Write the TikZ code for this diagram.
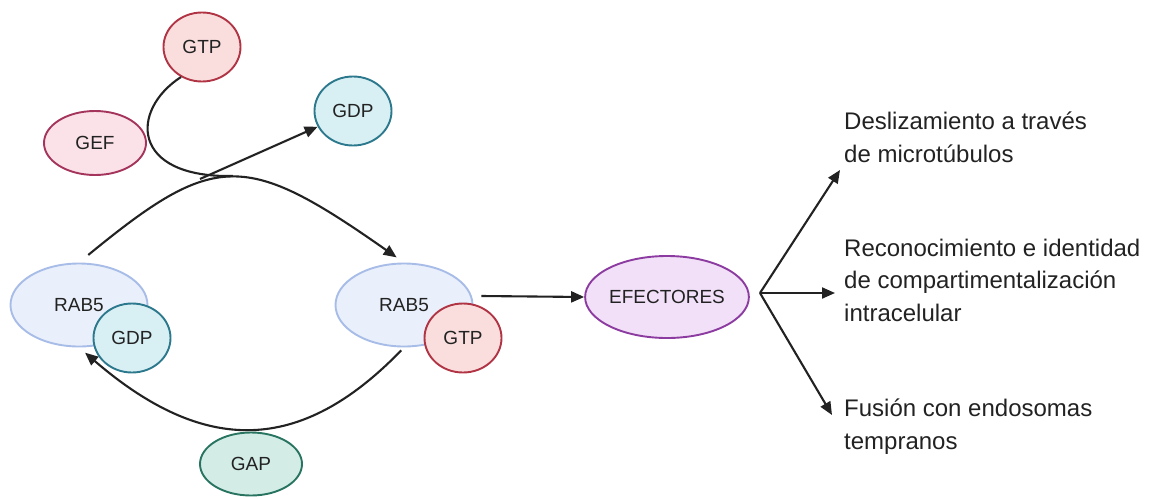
\documentclass[tikz,border=0pt]{standalone}
\usepackage{fontspec}
\setmainfont{Liberation Sans}
\usetikzlibrary{arrows.meta,shapes.geometric}
\definecolor{gtpf}{RGB}{250,222,222}
\definecolor{gtpd}{RGB}{176,52,68}
\definecolor{geff}{RGB}{250,226,232}
\definecolor{gefd}{RGB}{164,52,92}
\definecolor{gdpf}{RGB}{216,239,244}
\definecolor{gdpd}{RGB}{44,120,140}
\definecolor{rabf}{RGB}{233,240,251}
\definecolor{rabd}{RGB}{168,188,232}
\definecolor{gapf}{RGB}{211,237,230}
\definecolor{gapd}{RGB}{40,116,96}
\definecolor{efef}{RGB}{242,224,248}
\definecolor{efed}{RGB}{140,60,160}
\definecolor{ink}{RGB}{34,34,34}
\begin{document}
\begin{tikzpicture}[x=1pt,y=1pt,
  blob/.style={ellipse, draw, line width=1.9pt, inner sep=0pt, text=ink,
    font=\fontsize{19}{19}\selectfont},
  gtpstyle/.style={blob, fill=gtpf, draw=gtpd, minimum width=77pt, minimum height=69pt},
  gdpstyle/.style={blob, fill=gdpf, draw=gdpd, minimum width=77pt, minimum height=69pt},
  rabstyle/.style={blob, fill=rabf, draw=rabd, minimum width=137pt, minimum height=83pt},
  arr/.style={line width=2.1pt, draw=ink, -{Triangle[length=13pt,width=11pt]}},
  plain/.style={line width=2.1pt, draw=ink},
  txt/.style={align=left, inner sep=0pt, text=ink, font=\fontsize{24}{32.5}\selectfont}]
\useasboundingbox (0,0) rectangle (1158,-498);
% nodes
\node[gtpstyle] (gtp) at (202,-47) {GTP};
\node[blob, fill=geff, draw=gefd, minimum width=102pt, minimum height=64pt] (gef) at (95,-143) {GEF};
\node[gdpstyle] (gdpt) at (353,-111) {GDP};
\node[rabstyle] (rab5l) at (79,-305) {RAB5};
\node[gdpstyle] (gdpl) at (132,-338) {GDP};
\node[rabstyle] (rab5r) at (404,-305) {RAB5};
\node[gtpstyle] (gtpr) at (463,-338) {GTP};
\node[blob, fill=gapf, draw=gapd, minimum width=102pt, minimum height=63pt] (gap) at (251,-464) {GAP};
\node[blob, fill=efef, draw=efed, minimum width=149pt, minimum height=82pt] (efe) at (667,-297) {EFECTORES};
\node[txt, anchor=base west] (t1) at (844,-162) {Deslizamiento a través\\de microtúbulos};
\node[txt, anchor=base west] (t2) at (844,-321) {Reconocimiento e identidad\\de compartimentalización\\intracelular};
\node[txt, anchor=base west] (t3) at (844,-449) {Fusión con endosomas\\tempranos};
% coordinates
\coordinate (merge) at (233,-176);
\coordinate (split) at (200,-179);
\coordinate (branch) at (760,-293);
\coordinate (e1) at (840,-170);
\coordinate (e2) at (835,-293);
\coordinate (e3) at (832,-415);
% connectors
\draw[arr, shorten <=12pt, shorten >=9pt] (rab5l.north) .. controls (215,-151) and (245,-151) .. (rab5r.north);
\draw[plain] (gtp.235) .. controls (130,-110) and (130,-178) .. (merge);
\draw[arr] (split) -- (gdpt);
\draw[arr, shorten <=4pt, shorten >=8pt] (rab5r.south) .. controls (300,-455) and (204,-455) .. (rab5l.south);
\draw[arr] ([xshift=8pt,yshift=9pt]rab5r.east) -- (efe.west);
\draw[arr] (branch) -- (e1);
\draw[arr] (branch) -- (e2);
\draw[arr] (branch) -- (e3);
\end{tikzpicture}
\end{document}
